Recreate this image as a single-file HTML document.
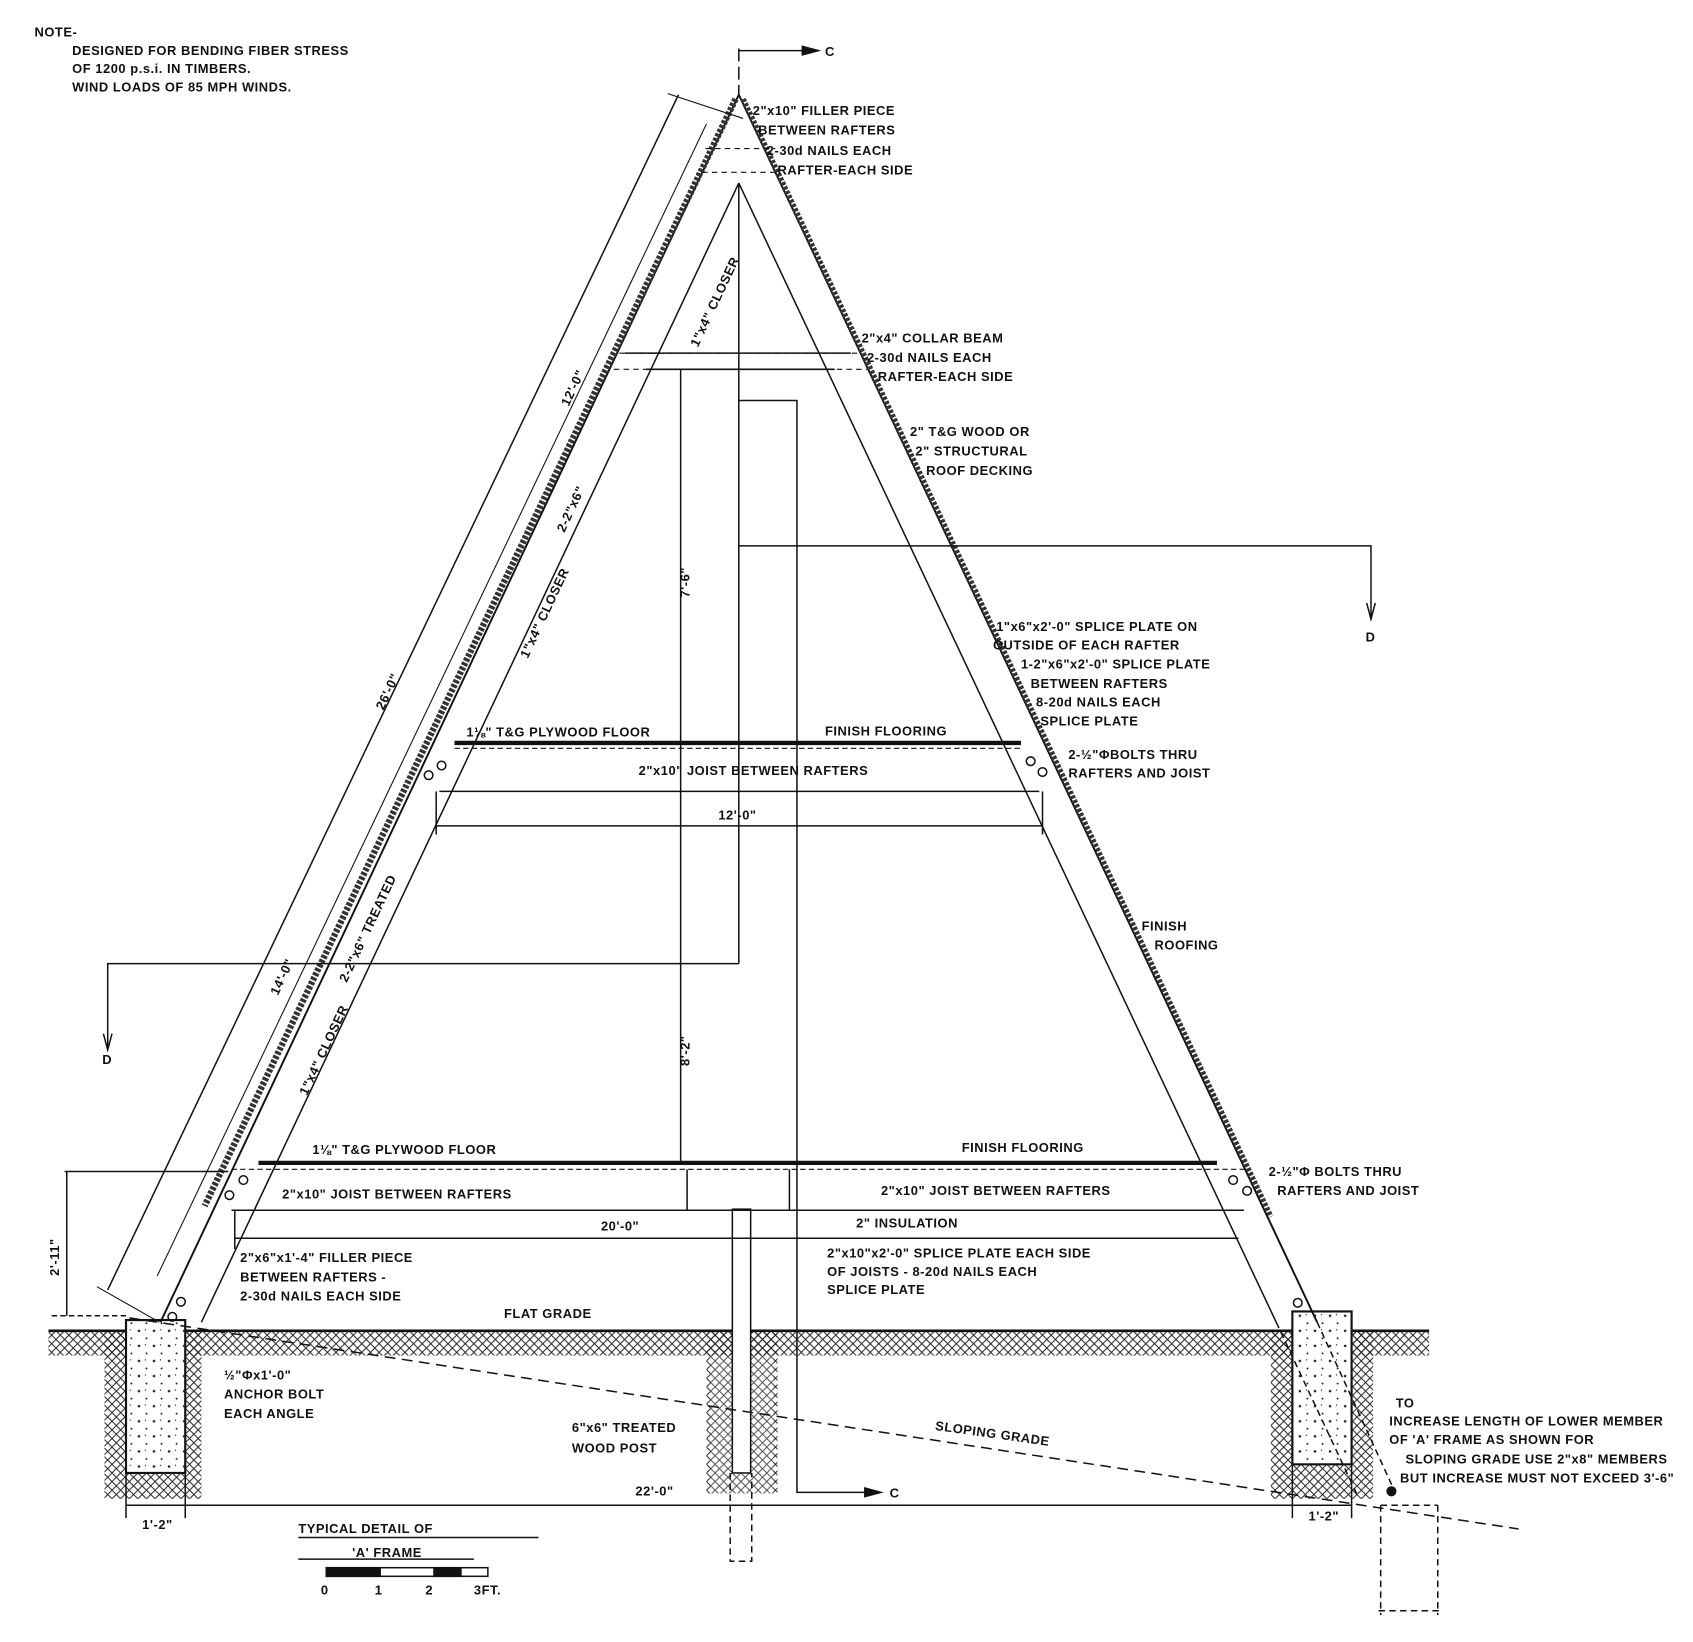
<!DOCTYPE html>
<html><head><meta charset="utf-8"><style>
html,body{margin:0;padding:0;background:#fff;}
svg{display:block;}
text{font-family:"Liberation Sans",sans-serif;font-weight:bold;font-size:12px;fill:#111;letter-spacing:0.5px;}
</style></head><body>
<svg width="1693" height="1642" viewBox="0 0 1572 1525" preserveAspectRatio="none" xmlns="http://www.w3.org/2000/svg">
<defs>
<pattern id="hatch" width="8" height="8" patternUnits="userSpaceOnUse">
<path d="M0,8 L8,0 M0,0 L8,8" stroke="#222" stroke-width="0.9"/>
</pattern>
<pattern id="dots" width="14" height="14" patternUnits="userSpaceOnUse">
<circle cx="3" cy="4" r="1.2" fill="#222"/><circle cx="10" cy="11" r="0.9" fill="#222"/><circle cx="9" cy="3" r="0.6" fill="#222"/>
</pattern>
</defs>
<g stroke="#111" fill="none" stroke-width="1.4">
<rect x="45" y="1237" width="1282" height="22" fill="url(#hatch)" stroke="none"/>
<rect x="97" y="1237" width="90" height="155" fill="url(#hatch)" stroke="none"/>
<rect x="1180" y="1237" width="95" height="155" fill="url(#hatch)" stroke="none"/>
<rect x="656" y="1237" width="66" height="150" fill="url(#hatch)" stroke="none"/>
<rect x="660" y="1259" width="58" height="128" fill="#fff" stroke="none"/>
<rect x="660" y="1259" width="58" height="128" fill="url(#hatch)" stroke="none" opacity="0.8"/>
<line x1="45" y1="1236" x2="1327" y2="1236" stroke-width="2.5"/>
<rect x="117" y="1226" width="55" height="142" fill="#fff" stroke-width="2"/>
<rect x="117" y="1226" width="55" height="142" fill="url(#dots)" stroke="none"/>
<rect x="1200" y="1218" width="55" height="142" fill="#fff" stroke-width="2"/>
<rect x="1200" y="1218" width="55" height="142" fill="url(#dots)" stroke="none"/>
<rect x="680" y="1123" width="17" height="245" fill="#fff"/>
<path d="M678,1368 V1450 H698 V1368" stroke-dasharray="6,4"/>
<line x1="686" y1="88" x2="149" y2="1228" stroke-width="1.8"/>
<line x1="686" y1="170" x2="187" y2="1228"/>
<line x1="686" y1="88" x2="1223" y2="1228" stroke-width="1.8"/>
<line x1="686" y1="170" x2="1185" y2="1228"/>
<line x1="683" y1="92" x2="190" y2="1120" stroke-width="6" stroke="#333" stroke-dasharray="3,1.5"/>
<line x1="690" y1="92" x2="1180" y2="1130" stroke-width="5" stroke="#333" stroke-dasharray="3,1.5"/>
<path d="M1223,1228 L1295,1385 M1185,1228 L1260,1388" stroke-dasharray="6,4"/>
<path d="M1282,1398 V1500 M1335,1398 V1500 M1282,1398 H1335 M1280,1496 H1340" stroke-dasharray="6,4"/>
<line x1="580" y1="328" x2="790" y2="328"/>
<line x1="600" y1="343" x2="775" y2="343"/>
<path d="M575,328 H800 M570,343 H805" stroke-dasharray="5,4" stroke-width="1"/>
<path d="M655,138 H720 M652,160 H722" stroke-dasharray="5,4" stroke-width="1"/>
<line x1="422" y1="690" x2="948" y2="690" stroke-width="4"/>
<line x1="422" y1="695" x2="950" y2="695" stroke-width="1" stroke-dasharray="5,3"/>
<line x1="408" y1="735" x2="965" y2="735"/>
<line x1="240" y1="1080" x2="1130" y2="1080" stroke-width="4"/>
<line x1="215" y1="1086" x2="1155" y2="1086" stroke-width="1" stroke-dasharray="5,3"/>
<line x1="215" y1="1124" x2="1155" y2="1124"/>
<path d="M638,1086 V1124 M733,1086 V1124" />
<line x1="686" y1="45" x2="686" y2="88" stroke-dasharray="12,5"/>
<line x1="686" y1="47" x2="745" y2="47"/>
<path d="M745,43 L760,47 L745,51 Z" fill="#111"/>
<line x1="686" y1="170" x2="686" y2="895"/>
<path d="M686,895 H100 V975"/>
<path d="M686,372 H740 V1386 H805"/>
<path d="M803,1382 L818,1386 L803,1390 Z" fill="#111"/>
<path d="M686,507 H1273 V575"/>
<path d="M1269,560 L1273,575 L1277,560" />
<path d="M96,960 L100,975 L104,960"/>
<line x1="632" y1="343" x2="632" y2="1080"/>
<line x1="405" y1="767" x2="968" y2="767"/>
<line x1="218" y1="1150" x2="1150" y2="1150"/>
<line x1="218" y1="1124" x2="218" y2="1160"/>
<line x1="117" y1="1398" x2="1255" y2="1398"/>
<line x1="117" y1="1368" x2="117" y2="1410"/>
<line x1="172" y1="1368" x2="172" y2="1410"/>
<line x1="1200" y1="1360" x2="1200" y2="1410"/>
<line x1="1255" y1="1360" x2="1255" y2="1410"/>
<line x1="405" y1="735" x2="405" y2="775"/>
<line x1="968" y1="735" x2="968" y2="775"/>
<line x1="630" y1="88" x2="100" y2="1198"/>
<line x1="656" y1="115" x2="146" y2="1185" stroke-width="1"/>
<line x1="620" y1="87" x2="690" y2="110" stroke-width="1"/>
<line x1="90" y1="1195" x2="148" y2="1228" stroke-width="1"/>
<line x1="60" y1="1088" x2="212" y2="1088"/>
<line x1="48" y1="1222" x2="120" y2="1222" stroke-dasharray="5,3"/>
<line x1="62" y1="1088" x2="62" y2="1222"/>
<line x1="120" y1="1224" x2="1410" y2="1420" stroke-dasharray="10,6"/>
<circle cx="410" cy="711" r="4"/><circle cx="398" cy="720" r="4"/>
<circle cx="957" cy="707" r="4"/><circle cx="968" cy="717" r="4"/>
<circle cx="226" cy="1096" r="4"/><circle cx="213" cy="1110" r="4"/>
<circle cx="1145" cy="1096" r="4"/><circle cx="1158" cy="1106" r="4"/>
<circle cx="168" cy="1209" r="4"/><circle cx="160" cy="1223" r="4"/>
<circle cx="1205" cy="1210" r="4"/><circle cx="1292" cy="1385" r="4" fill="#111"/>
<rect x="303" y="1456" width="150" height="8"/>
<rect x="303" y="1456" width="50" height="8" fill="#111"/>
<rect x="403" y="1456" width="25" height="8" fill="#111"/>
<line x1="277" y1="1428" x2="500" y2="1428"/>
<line x1="277" y1="1448" x2="440" y2="1448"/>
</g>
<text x="32" y="34">NOTE-</text>
<text x="67" y="51" font-size="11">DESIGNED FOR BENDING FIBER STRESS</text>
<text x="67" y="68" font-size="11">OF 1200 p.s.i. IN TIMBERS.</text>
<text x="67" y="85" font-size="11">WIND LOADS OF 85 MPH WINDS.</text>
<text x="766" y="52" font-size="14">C</text>
<text x="826" y="1391" font-size="14">C</text>
<text x="699" y="107">2"x10" FILLER PIECE</text>
<text x="704" y="125">BETWEEN RAFTERS</text>
<text x="712" y="144">2-30d NAILS EACH</text>
<text x="722" y="162">RAFTER-EACH SIDE</text>
<text x="800" y="318">2"x4" COLLAR BEAM</text>
<text x="805" y="336">2-30d NAILS EACH</text>
<text x="815" y="354">RAFTER-EACH SIDE</text>
<text x="845" y="405">2" T&amp;G WOOD OR</text>
<text x="850" y="423">2" STRUCTURAL</text>
<text x="860" y="441">ROOF DECKING</text>
<text x="925" y="586">1"x6"x2'-0" SPLICE PLATE ON</text>
<text x="922" y="603">OUTSIDE OF EACH RAFTER</text>
<text x="948" y="621">1-2"x6"x2'-0" SPLICE PLATE</text>
<text x="957" y="639">BETWEEN RAFTERS</text>
<text x="962" y="656">8-20d NAILS EACH</text>
<text x="966" y="674">SPLICE PLATE</text>
<text x="992" y="705">2-½"ΦBOLTS THRU</text>
<text x="992" y="722">RAFTERS AND JOIST</text>
<text x="1060" y="864">FINISH</text>
<text x="1072" y="882">ROOFING</text>
<text x="1268" y="596" font-size="14">D</text>
<text x="95" y="988" font-size="14">D</text>
<text x="433" y="684" font-size="11">1⅛" T&amp;G PLYWOOD FLOOR</text>
<text x="766" y="683" font-size="11">FINISH FLOORING</text>
<text x="593" y="720">2"x10" JOIST BETWEEN RAFTERS</text>
<text x="667" y="761">12'-0"</text>
<text x="290" y="1072">1⅛" T&amp;G PLYWOOD FLOOR</text>
<text x="893" y="1070">FINISH FLOORING</text>
<text x="262" y="1113">2"x10" JOIST BETWEEN RAFTERS</text>
<text x="818" y="1110">2"x10" JOIST BETWEEN RAFTERS</text>
<text x="558" y="1143">20'-0"</text>
<text x="795" y="1140">2" INSULATION</text>
<text x="1178" y="1092">2-½"Φ BOLTS THRU</text>
<text x="1186" y="1110">RAFTERS AND JOIST</text>
<text x="223" y="1172">2"x6"x1'-4" FILLER PIECE</text>
<text x="223" y="1190">BETWEEN RAFTERS -</text>
<text x="223" y="1208">2-30d NAILS EACH SIDE</text>
<text x="768" y="1168">2"x10"x2'-0" SPLICE PLATE EACH SIDE</text>
<text x="768" y="1185">OF JOISTS - 8-20d NAILS EACH</text>
<text x="768" y="1202">SPLICE PLATE</text>
<text x="468" y="1224">FLAT GRADE</text>
<text x="208" y="1281">½"Φx1'-0"</text>
<text x="208" y="1299">ANCHOR BOLT</text>
<text x="208" y="1317">EACH ANGLE</text>
<text x="531" y="1330">6"x6" TREATED</text>
<text x="531" y="1349">WOOD POST</text>
<text x="868" y="1328" transform="rotate(8 868 1328)">SLOPING GRADE</text>
<text x="590" y="1389">22'-0"</text>
<text x="132" y="1420" font-size="11">1'-2"</text>
<text x="1215" y="1412" font-size="11">1'-2"</text>
<text x="1296" y="1307">TO</text>
<text x="1290" y="1324" font-size="11">INCREASE LENGTH OF LOWER MEMBER</text>
<text x="1290" y="1341" font-size="11">OF 'A' FRAME AS SHOWN FOR</text>
<text x="1305" y="1359" font-size="11">SLOPING GRADE USE 2"x8" MEMBERS</text>
<text x="1300" y="1377" font-size="11">BUT INCREASE MUST NOT EXCEED 3'-6"</text>
<text x="277" y="1424" font-size="18" font-weight="normal">TYPICAL DETAIL OF</text>
<text x="327" y="1446" font-size="18" font-weight="normal">'A' FRAME</text>
<text x="298" y="1481" font-weight="normal">0</text>
<text x="348" y="1481" font-weight="normal">1</text>
<text x="395" y="1481" font-weight="normal">2</text>
<text x="440" y="1481" font-weight="normal">3FT.</text>
<text x="0" y="0" transform="translate(640,990) rotate(-90)">8'-2"</text>
<text x="0" y="0" transform="translate(640,555) rotate(-90)">7'-6"</text>
<text x="0" y="0" transform="translate(55,1185) rotate(-90)">2'-11"</text>
<text transform="translate(528,378) rotate(-64.8)" font-size="13">12'-0"</text>
<text transform="translate(356,660) rotate(-64.8)" font-size="13">26'-0"</text>
<text transform="translate(258,925) rotate(-64.8)" font-size="13">14'-0"</text>
<text transform="translate(524,495) rotate(-64.8)" font-size="11">2-2"x6"</text>
<text transform="translate(322,913) rotate(-64.8)" font-size="11">2-2"x6" TREATED</text>
<text transform="translate(648,323) rotate(-64.8)" font-size="11">1"x4" CLOSER</text>
<text transform="translate(490,612) rotate(-64.8)" font-size="11">1"x4" CLOSER</text>
<text transform="translate(285,1018) rotate(-64.8)" font-size="11">1"x4" CLOSER</text>
</svg>
</body></html>
